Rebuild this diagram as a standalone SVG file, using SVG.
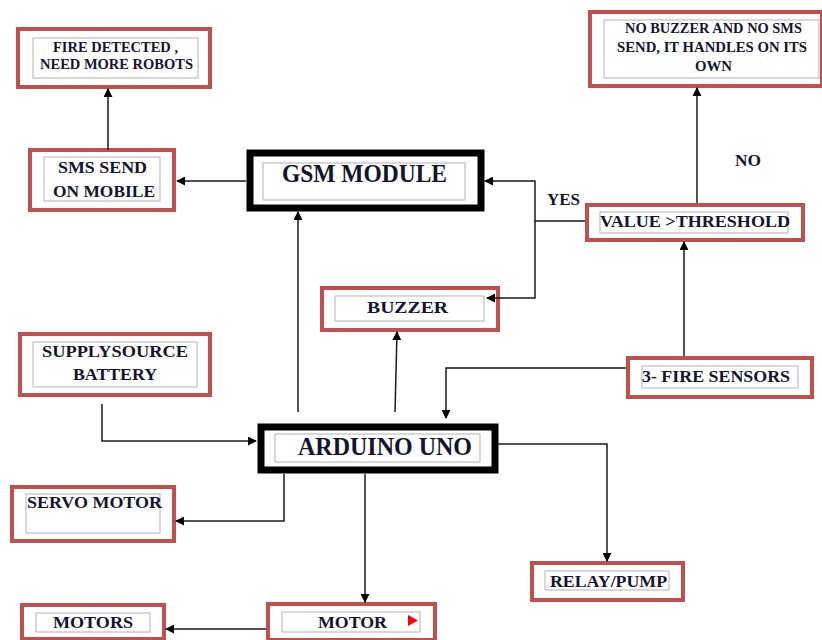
<svg xmlns="http://www.w3.org/2000/svg" width="822" height="640" viewBox="0 0 822 640">
<style>
.red{fill:#fff;stroke:#c0504d;stroke-width:4}
.blk{fill:#fff;stroke:#000;stroke-width:7}
.in{fill:none;stroke:#bfbfbf;stroke-width:1.2}
.t{font-family:"Liberation Serif","Times New Roman",serif;font-weight:bold;fill:#14142b;font-size:17px}
.s{font-size:14px}
.b{font-size:25px}
.c{fill:none;stroke:#1a1a1a;stroke-width:1.5}
</style>
<defs>
<marker id="a" viewBox="0 0 10 10" refX="9" refY="5" markerWidth="9" markerHeight="9" markerUnits="userSpaceOnUse" orient="auto">
<path d="M0,0 L10,5 L0,10 z" fill="#000"/>
</marker>
</defs>
<rect width="822" height="640" fill="#fff"/>
<g id="fire-detected">
<rect class="red" x="18" y="29" width="192" height="58"/>
<rect class="in" x="33" y="38" width="165" height="40"/>
<text class="t s" x="53" y="52" textLength="125" lengthAdjust="spacingAndGlyphs">FIRE DETECTED ,</text>
<text class="t s" x="40" y="69" textLength="153" lengthAdjust="spacingAndGlyphs">NEED MORE ROBOTS</text>
</g>
<g id="no-buzzer">
<rect class="red" x="590" y="12" width="232" height="74"/>
<rect class="in" x="604" y="20" width="215" height="58"/>
<text class="t s" x="625" y="33" textLength="177" lengthAdjust="spacingAndGlyphs">NO BUZZER AND NO SMS</text>
<text class="t s" x="617" y="52" textLength="190" lengthAdjust="spacingAndGlyphs">SEND, IT HANDLES ON ITS</text>
<text class="t s" x="695" y="71" textLength="37" lengthAdjust="spacingAndGlyphs">OWN</text>
</g>
<g id="sms-send">
<rect class="red" x="30" y="150" width="144" height="60"/>
<rect class="in" x="44" y="157" width="116" height="44"/>
<text class="t" x="58" y="173" textLength="89" lengthAdjust="spacingAndGlyphs">SMS SEND</text>
<text class="t" x="53" y="197" textLength="102" lengthAdjust="spacingAndGlyphs">ON MOBILE</text>
</g>
<g id="gsm-module">
<rect class="blk" x="250" y="153" width="231" height="55"/>
<rect class="in" x="263" y="163" width="202" height="37"/>
<text class="t b" x="282" y="182" textLength="165" lengthAdjust="spacingAndGlyphs">GSM MODULE</text>
</g>
<g id="value-threshold">
<rect class="red" x="587" y="205" width="216" height="35"/>
<rect class="in" x="600" y="212" width="188" height="21"/>
<text class="t" x="600" y="227" textLength="190" lengthAdjust="spacingAndGlyphs">VALUE &gt;THRESHOLD</text>
</g>
<g id="buzzer">
<rect class="red" x="322" y="288" width="176" height="42"/>
<rect class="in" x="335" y="296" width="149" height="25"/>
<text class="t" x="367" y="313" textLength="81" lengthAdjust="spacingAndGlyphs">BUZZER</text>
</g>
<g id="supply-source">
<rect class="red" x="20" y="334" width="190" height="61"/>
<rect class="in" x="33" y="342" width="164" height="45"/>
<text class="t" x="42" y="357" textLength="146" lengthAdjust="spacingAndGlyphs">SUPPLYSOURCE</text>
<text class="t" x="73" y="380" textLength="84" lengthAdjust="spacingAndGlyphs">BATTERY</text>
</g>
<g id="fire-sensors">
<rect class="red" x="628" y="358" width="184" height="39"/>
<rect class="in" x="642" y="366" width="156" height="22"/>
<text class="t" x="642" y="382" textLength="148" lengthAdjust="spacingAndGlyphs">3- FIRE SENSORS</text>
</g>
<g id="arduino-uno">
<rect class="blk" x="261" y="427" width="234" height="43"/>
<rect class="in" x="275" y="434" width="205" height="28"/>
<text class="t b" x="298" y="455" textLength="174" lengthAdjust="spacingAndGlyphs">ARDUINO  UNO</text>
</g>
<g id="servo-motor">
<rect class="red" x="12" y="487" width="162" height="54"/>
<rect class="in" x="26" y="494" width="134" height="39"/>
<text class="t" x="27" y="508" textLength="135" lengthAdjust="spacingAndGlyphs">SERVO MOTOR</text>
</g>
<g id="relay-pump">
<rect class="red" x="532" y="563" width="151" height="37"/>
<rect class="in" x="545" y="571" width="124" height="19"/>
<text class="t" x="550" y="587" textLength="117" lengthAdjust="spacingAndGlyphs">RELAY/PUMP</text>
</g>
<g id="motor">
<rect class="red" x="268" y="604" width="167" height="36"/>
<rect class="in" x="282" y="612" width="138" height="20"/>
<text class="t" x="318" y="628" textLength="69" lengthAdjust="spacingAndGlyphs">MOTOR</text>
<path d="M408,615 L418,620.5 L408,626 z" fill="#ff0000"/>
</g>
<g id="motors">
<rect class="red" x="22" y="605" width="142" height="34"/>
<rect class="in" x="36" y="613" width="114" height="19"/>
<text class="t" x="53" y="628" textLength="80" lengthAdjust="spacingAndGlyphs">MOTORS</text>
</g>
<g id="connectors">
<path class="c" d="M108,150 V89" marker-end="url(#a)"/>
<path class="c" d="M246,181 H177" marker-end="url(#a)"/>
<path class="c" d="M585,221 H535 V181 H485" marker-end="url(#a)"/>
<path class="c" d="M535,221 V298 H487" marker-end="url(#a)"/>
<path class="c" d="M697,203 V88" marker-end="url(#a)"/>
<path class="c" d="M684,356 V242" marker-end="url(#a)"/>
<path class="c" d="M395,412 L397,332" marker-end="url(#a)"/>
<path class="c" d="M298,412 V212" marker-end="url(#a)"/>
<path class="c" d="M102,404 V441 H256" marker-end="url(#a)"/>
<path class="c" d="M626,368 H446 V418" marker-end="url(#a)"/>
<path class="c" d="M498,444 H607 V561" marker-end="url(#a)"/>
<path class="c" d="M284,474 V521 H176" marker-end="url(#a)"/>
<path class="c" d="M365,474 V602" marker-end="url(#a)"/>
<path class="c" d="M266,629 H166" marker-end="url(#a)"/>
<text class="t" x="547" y="205" textLength="33" lengthAdjust="spacingAndGlyphs">YES</text>
<text class="t" x="735" y="166" textLength="26" lengthAdjust="spacingAndGlyphs">NO</text>
</g>
</svg>
